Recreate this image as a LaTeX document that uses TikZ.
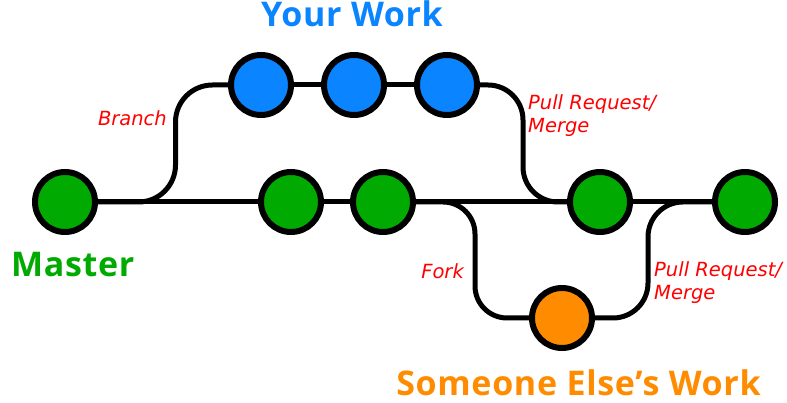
\documentclass[tikz,border=0pt]{standalone}
\usepackage{fontspec}
\usepackage{tikz}
\usetikzlibrary{positioning,calc,backgrounds}
\newfontfamily\headfont{Open Sans}[LetterSpace=2]
\newfontfamily\lblfont{DejaVu Sans}
\definecolor{workblue}{HTML}{0A84FF}
\definecolor{mastergreen}{HTML}{00AA00}
\definecolor{elseorange}{HTML}{FF8C00}
\definecolor{lblred}{HTML}{FF0000}

\begin{document}
\begin{tikzpicture}[x=1pt,y=1pt,
		commit/.style={circle,draw=black,line width=6pt,minimum size=60pt,inner sep=0pt},
		link/.style={line width=5pt,rounded corners=37pt},
		head/.style={inner sep=0pt,font=\headfont\bfseries\fontsize{34}{38}\selectfont},
		lbl/.style={inner sep=0pt,text=lblred,align=left,font=\lblfont\itshape\fontsize{19.5}{23.5}\selectfont}]
		\useasboundingbox (0,0) rectangle (787,403);
		\node[commit,fill=mastergreen] (m1) at (65,201) {};
		\node[commit,fill=mastergreen] (m2) at (291,201) {};
		\node[commit,fill=mastergreen] (m3) at (383,201) {};
		\node[commit,fill=mastergreen] (m4) at (600,201) {};
		\node[commit,fill=mastergreen] (m5) at (745,201) {};
		\node[commit,fill=workblue] (y1) at (261,318) {};
		\node[commit,fill=workblue] (y2) at (354,318) {};
		\node[commit,fill=workblue] (y3) at (447,318) {};
		\node[commit,fill=elseorange] (o1) at (562,85) {};
		
		\node[head,text=workblue,anchor=base] (yourwork) at (352,376) {Your Work};
		\node[head,text=mastergreen,anchor=base west] (master) at (11,126) {Master};
		\node[head,text=elseorange,anchor=base] (elsework) at (578.5,7) {Someone Else’s Work};
		
		\node[lbl,anchor=base east] (branch) at (167,277) {Branch};
		\node[lbl,anchor=north west] (merge1) at (528,309) {Pull Request/\\Merge};
		\node[lbl,anchor=base east] (fork) at (464,124) {Fork};
		\node[lbl,anchor=north west] (merge2) at (654,142) {Pull Request/\\Merge};
		
		\begin{scope}[on background layer]
			\draw[link] (m1) -- (m2) -- (m3) -- (m4) -- (m5);
			\draw[link] (y1) -- (y2) -- (y3);
			\draw[link] (m1) -| ([xshift=-85.5pt]y1.center) -- (y1);
			\draw[link,rounded corners=35pt] (y3) -| ([xshift=-77pt]m4.center) -- (m4);
			\draw[link,rounded corners=32pt] (m3) -| ([xshift=-87pt]o1.center) -- (o1);
			\draw[link,rounded corners=35pt] (o1) -| ([xshift=-97pt]m5.center) -- (m5);
		\end{scope}
	\end{tikzpicture}
\end{document}
